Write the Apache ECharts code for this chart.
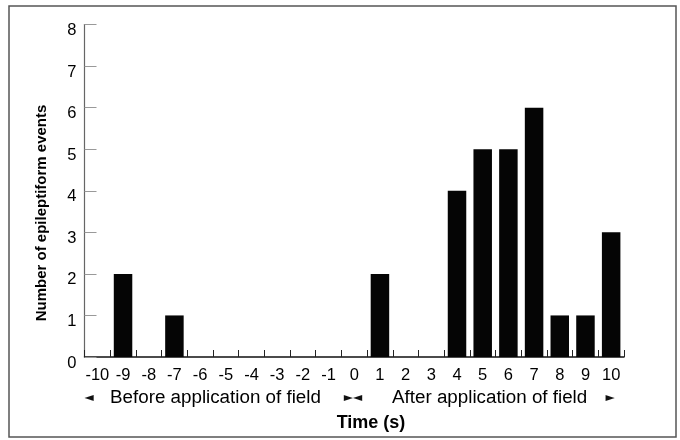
<!DOCTYPE html>
<html>
<head>
<meta charset="utf-8">
<script src="https://cdn.jsdelivr.net/npm/echarts@6/dist/echarts.min.js"></script>
<style>html,body{margin:0;padding:0;background:#fff}#c{width:680px;height:440px}</style>
</head>
<body>
<div id="c"></div>
<script>
var categories = ['-10','-9','-8','-7','-6','-5','-4','-3','-2','-1','0','1','2','3','4','5','6','7','8','9','10'];
var events = [0,2,0,1,0,0,0,0,0,0,0,2,0,0,4,5,5,6,1,1,3];
var yTicks = [0,1,2,3,4,5,6,7,8];
var yTitle = 'Number of epileptiform events';
var xTitle = 'Time (s)';
var beforeText = 'Before application of field';
var afterText = 'After application of field';

var chart = echarts.init(document.getElementById('c'), null, {renderer:'canvas'});
var font = 'Liberation Sans, Arial, Helvetica, sans-serif';
chart.setOption({
  animation:false,
  backgroundColor:'#fff',
  grid:{left:84.5, right:56, top:24.5, bottom:83, containLabel:false},
  xAxis:{
    type:'category', data:categories, boundaryGap:true,
    axisLine:{lineStyle:{color:'#111', width:1.5}},
    axisTick:{show:true, inside:true, length:7, lineStyle:{color:'#222', width:1}},
    axisLabel:{color:'#000', fontFamily:font, fontSize:16.5, margin:10, interval:0},
    splitLine:{show:false}
  },
  yAxis:{
    type:'value', min:yTicks[0], max:yTicks[yTicks.length-1], interval:1,
    axisLine:{show:true, lineStyle:{color:'#666', width:1.2}},
    axisTick:{show:true, inside:true, length:12, lineStyle:{color:'#999', width:1}},
    axisLabel:{color:'#000', fontFamily:font, fontSize:16.5, margin:8, verticalAlign:'top', lineHeight:12},
    splitLine:{show:false}
  },
  series:[{
    type:'bar', data:events, barCategoryGap:'28%',
    itemStyle:{color:'#050505'}
  }],
  graphic:[
    {type:'rect', shape:{x:9, y:6, width:667, height:431}, style:{fill:'none', stroke:'#555', lineWidth:1.5}, silent:true},
    {type:'text', x:42, y:213, rotation:Math.PI/2, style:{text:yTitle, font:'bold 15px '+font, fill:'#000', textAlign:'center', textVerticalAlign:'middle'}},
    {type:'text', x:371, y:423, style:{text:xTitle, font:'bold 18px '+font, fill:'#000', textAlign:'center', textVerticalAlign:'middle'}},
    {type:'text', x:89, y:398, style:{text:'\u25C4', font:'12px DejaVu Sans', fill:'#111', textAlign:'center', textVerticalAlign:'middle'}},
    {type:'text', x:110, y:398, style:{text:beforeText, font:'18.8px '+font, fill:'#000', textAlign:'left', textVerticalAlign:'middle'}},
    {type:'text', x:353, y:398, style:{text:'\u25BA\u25C4', font:'12px DejaVu Sans', fill:'#111', textAlign:'center', textVerticalAlign:'middle'}},
    {type:'text', x:392, y:398, style:{text:afterText, font:'18.8px '+font, fill:'#000', textAlign:'left', textVerticalAlign:'middle'}},
    {type:'text', x:610, y:398, style:{text:'\u25BA', font:'12px DejaVu Sans', fill:'#111', textAlign:'center', textVerticalAlign:'middle'}}
  ]
});
</script>
</body>
</html>
